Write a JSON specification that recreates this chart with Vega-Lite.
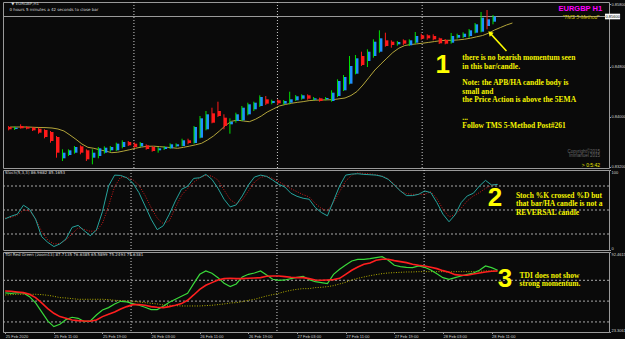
{
"$schema": "https://vega.github.io/schema/vega-lite/v6.json",
"background": "#0a0a0a",
"padding": {"left": 1, "top": 1, "right": 0, "bottom": 0},
"spacing": 2,
"bounds": "flush",
"config": {
  "view": {"stroke": "#9a9a9a", "strokeWidth": 1},
  "axis": {"labelColor": "#d4d4d4", "labelFont": "Liberation Sans", "labelFontSize": 4, "tickColor": "#9a9a9a", "tickSize": 1.5, "domain": false, "grid": false, "labelPadding": 0.5, "labelOverlap": false}
},
"datasets": {
  "days": [{"i": 20.7}, {"i": 44.7}, {"i": 68.9}],
  "candles": [
    {"i":0,"o":0.83832,"h":0.83848,"l":0.83779,"c":0.83795,"d":"dn","w":"dn"},
    {"i":1,"o":0.83800,"h":0.83837,"l":0.83784,"c":0.83821,"d":"up","w":"up"},
    {"i":2,"o":0.83848,"h":0.83875,"l":0.83805,"c":0.83811,"d":"dn","w":"dn"},
    {"i":3,"o":0.83832,"h":0.83843,"l":0.83795,"c":0.83805,"d":"dn","w":"dn"},
    {"i":4,"o":0.83821,"h":0.83832,"l":0.83768,"c":0.83779,"d":"dn","w":"dn"},
    {"i":5,"o":0.83805,"h":0.83821,"l":0.83725,"c":0.83741,"d":"dn","w":"dn"},
    {"i":6,"o":0.83784,"h":0.83795,"l":0.83651,"c":0.83672,"d":"dn","w":"dn"},
    {"i":7,"o":0.83752,"h":0.83768,"l":0.83581,"c":0.83608,"d":"dn","w":"dn"},
    {"i":8,"o":0.83672,"h":0.83688,"l":0.83341,"c":0.83421,"d":"dn","w":"dn"},
    {"i":9,"o":0.83331,"h":0.83475,"l":0.83288,"c":0.83421,"d":"up","w":"up"},
    {"i":10,"o":0.83384,"h":0.83475,"l":0.83368,"c":0.83459,"d":"up","w":"up"},
    {"i":11,"o":0.83421,"h":0.83528,"l":0.83405,"c":0.83512,"d":"up","w":"up"},
    {"i":12,"o":0.83523,"h":0.83539,"l":0.83395,"c":0.83421,"d":"dn","w":"dn"},
    {"i":13,"o":0.83459,"h":0.83475,"l":0.83288,"c":0.83315,"d":"dn","w":"dn"},
    {"i":14,"o":0.83341,"h":0.83475,"l":0.83235,"c":0.83421,"d":"up","w":"up"},
    {"i":15,"o":0.83368,"h":0.83512,"l":0.83331,"c":0.83491,"d":"up","w":"up"},
    {"i":16,"o":0.83421,"h":0.83523,"l":0.83405,"c":0.83501,"d":"up","w":"up"},
    {"i":17,"o":0.83459,"h":0.83528,"l":0.83437,"c":0.83512,"d":"up","w":"up"},
    {"i":18,"o":0.83459,"h":0.83581,"l":0.83448,"c":0.83565,"d":"up","w":"up"},
    {"i":19,"o":0.83512,"h":0.83619,"l":0.83491,"c":0.83592,"d":"up","w":"up"},
    {"i":20,"o":0.83592,"h":0.83608,"l":0.83528,"c":0.83539,"d":"dn","w":"dn"},
    {"i":21,"o":0.83565,"h":0.83587,"l":0.83491,"c":0.83512,"d":"dn","w":"dn"},
    {"i":22,"o":0.83523,"h":0.83592,"l":0.83512,"c":0.83576,"d":"up","w":"up"},
    {"i":23,"o":0.83539,"h":0.83555,"l":0.83469,"c":0.83480,"d":"dn","w":"dn"},
    {"i":24,"o":0.83512,"h":0.83528,"l":0.83437,"c":0.83448,"d":"dn","w":"dn"},
    {"i":25,"o":0.83459,"h":0.83512,"l":0.83421,"c":0.83491,"d":"up","w":"up"},
    {"i":26,"o":0.83480,"h":0.83528,"l":0.83464,"c":0.83512,"d":"up","w":"up"},
    {"i":27,"o":0.83491,"h":0.83571,"l":0.83480,"c":0.83555,"d":"up","w":"up"},
    {"i":28,"o":0.83523,"h":0.83571,"l":0.83512,"c":0.83555,"d":"up","w":"up"},
    {"i":29,"o":0.83528,"h":0.83645,"l":0.83523,"c":0.83619,"d":"up","w":"up"},
    {"i":30,"o":0.83619,"h":0.83645,"l":0.83555,"c":0.83576,"d":"dn","w":"dn"},
    {"i":31,"o":0.83576,"h":0.83848,"l":0.83565,"c":0.83832,"d":"up","w":"up"},
    {"i":32,"o":0.83661,"h":0.84008,"l":0.83651,"c":0.83971,"d":"up","w":"up"},
    {"i":33,"o":0.83795,"h":0.84088,"l":0.83779,"c":0.84035,"d":"up","w":"up"},
    {"i":34,"o":0.84051,"h":0.84141,"l":0.83891,"c":0.83901,"d":"dn","w":"dn"},
    {"i":35,"o":0.84088,"h":0.84237,"l":0.83992,"c":0.84008,"d":"dn","w":"dn"},
    {"i":36,"o":0.83981,"h":0.84035,"l":0.83795,"c":0.83848,"d":"dn","w":"dn"},
    {"i":37,"o":0.83875,"h":0.83971,"l":0.83725,"c":0.83917,"d":"up","w":"up"},
    {"i":38,"o":0.83928,"h":0.84061,"l":0.83901,"c":0.84035,"d":"up","w":"up"},
    {"i":39,"o":0.83939,"h":0.84168,"l":0.83928,"c":0.84141,"d":"up","w":"up"},
    {"i":40,"o":0.84035,"h":0.84221,"l":0.84019,"c":0.84195,"d":"up","w":"up"},
    {"i":41,"o":0.84115,"h":0.84237,"l":0.84088,"c":0.84221,"d":"up","w":"up"},
    {"i":42,"o":0.84168,"h":0.84339,"l":0.84152,"c":0.84312,"d":"up","w":"up"},
    {"i":43,"o":0.84275,"h":0.84328,"l":0.84184,"c":0.84205,"d":"dn","w":"dn"},
    {"i":44,"o":0.84216,"h":0.84269,"l":0.84195,"c":0.84248,"d":"up","w":"up"},
    {"i":45,"o":0.84259,"h":0.84275,"l":0.84184,"c":0.84211,"d":"dn","w":"dn"},
    {"i":46,"o":0.84205,"h":0.84264,"l":0.84189,"c":0.84248,"d":"up","w":"up"},
    {"i":47,"o":0.84221,"h":0.84397,"l":0.84195,"c":0.84275,"d":"up","w":"up"},
    {"i":48,"o":0.84259,"h":0.84344,"l":0.84248,"c":0.84323,"d":"up","w":"up"},
    {"i":49,"o":0.84285,"h":0.84355,"l":0.84269,"c":0.84339,"d":"up","w":"up"},
    {"i":50,"o":0.84339,"h":0.84355,"l":0.84269,"c":0.84285,"d":"dn","w":"dn"},
    {"i":51,"o":0.84269,"h":0.84312,"l":0.84259,"c":0.84291,"d":"up","w":"up"},
    {"i":52,"o":0.84291,"h":0.84301,"l":0.84237,"c":0.84248,"d":"dn","w":"dn"},
    {"i":53,"o":0.84275,"h":0.84312,"l":0.84259,"c":0.84296,"d":"up","w":"up"},
    {"i":54,"o":0.84248,"h":0.84419,"l":0.84237,"c":0.84381,"d":"up","w":"up"},
    {"i":55,"o":0.84328,"h":0.84595,"l":0.84312,"c":0.84568,"d":"up","w":"up"},
    {"i":56,"o":0.84419,"h":0.84664,"l":0.84408,"c":0.84632,"d":"up","w":"up"},
    {"i":57,"o":0.84525,"h":0.84968,"l":0.84515,"c":0.84808,"d":"up","w":"up"},
    {"i":58,"o":0.84685,"h":0.84984,"l":0.84675,"c":0.84931,"d":"up","w":"up"},
    {"i":59,"o":0.84968,"h":0.85037,"l":0.84808,"c":0.84824,"d":"dn","w":"dn"},
    {"i":60,"o":0.84888,"h":0.85075,"l":0.84792,"c":0.85037,"d":"up","w":"up"},
    {"i":61,"o":0.84968,"h":0.85235,"l":0.84941,"c":0.85197,"d":"up","w":"up"},
    {"i":62,"o":0.85037,"h":0.85379,"l":0.85021,"c":0.85251,"d":"up","w":"up"},
    {"i":63,"o":0.85219,"h":0.85341,"l":0.85117,"c":0.85128,"d":"dn","w":"dn"},
    {"i":64,"o":0.85197,"h":0.85219,"l":0.85101,"c":0.85144,"d":"dn","w":"dn"},
    {"i":65,"o":0.85155,"h":0.85208,"l":0.85133,"c":0.85192,"d":"up","w":"up"},
    {"i":66,"o":0.85219,"h":0.85235,"l":0.85144,"c":0.85165,"d":"dn","w":"dn"},
    {"i":67,"o":0.85139,"h":0.85235,"l":0.85128,"c":0.85219,"d":"up","w":"up"},
    {"i":68,"o":0.85181,"h":0.85352,"l":0.85165,"c":0.85288,"d":"up","w":"up"},
    {"i":69,"o":0.85299,"h":0.85325,"l":0.85229,"c":0.85245,"d":"dn","w":"dn"},
    {"i":70,"o":0.85299,"h":0.85315,"l":0.85229,"c":0.85251,"d":"dn","w":"dn"},
    {"i":71,"o":0.85288,"h":0.85315,"l":0.85219,"c":0.85235,"d":"dn","w":"dn"},
    {"i":72,"o":0.85251,"h":0.85261,"l":0.85160,"c":0.85171,"d":"dn","w":"dn"},
    {"i":73,"o":0.85224,"h":0.85240,"l":0.85155,"c":0.85165,"d":"dn","w":"dn"},
    {"i":74,"o":0.85181,"h":0.85336,"l":0.85165,"c":0.85288,"d":"up","w":"up"},
    {"i":75,"o":0.85261,"h":0.85325,"l":0.85245,"c":0.85304,"d":"up","w":"up"},
    {"i":76,"o":0.85272,"h":0.85347,"l":0.85256,"c":0.85325,"d":"up","w":"up"},
    {"i":77,"o":0.85288,"h":0.85400,"l":0.85261,"c":0.85379,"d":"up","w":"up"},
    {"i":78,"o":0.85341,"h":0.85496,"l":0.85331,"c":0.85475,"d":"up","w":"up"},
    {"i":79,"o":0.85357,"h":0.85672,"l":0.85347,"c":0.85581,"d":"up","w":"up"},
    {"i":80,"o":0.85448,"h":0.85704,"l":0.85395,"c":0.85555,"d":"up","w":"dn"},
    {"i":81,"o":0.85517,"h":0.85624,"l":0.85475,"c":0.85600,"d":"up","w":"up"}
  ],
  "ema": [
    {"i":0,"v":0.83832},{"i":1,"v":0.83832},{"i":2,"v":0.83832},{"i":3,"v":0.83832},{"i":4,"v":0.83827},
    {"i":5,"v":0.83824},{"i":6,"v":0.83822},{"i":7,"v":0.83816},{"i":8,"v":0.83800},{"i":9,"v":0.83768},
    {"i":10,"v":0.83704},{"i":11,"v":0.83635},{"i":12,"v":0.83560},{"i":13,"v":0.83507},{"i":14,"v":0.83491},
    {"i":15,"v":0.83467},{"i":16,"v":0.83446},{"i":17,"v":0.83421},{"i":18,"v":0.83429},{"i":19,"v":0.83448},
    {"i":20,"v":0.83469},{"i":21,"v":0.83493},{"i":22,"v":0.83512},{"i":23,"v":0.83523},{"i":24,"v":0.83525},
    {"i":25,"v":0.83518},{"i":26,"v":0.83510},{"i":27,"v":0.83501},{"i":28,"v":0.83491},{"i":29,"v":0.83507},
    {"i":30,"v":0.83526},{"i":31,"v":0.83547},{"i":32,"v":0.83571},{"i":33,"v":0.83624},{"i":34,"v":0.83688},
    {"i":35,"v":0.83768},{"i":36,"v":0.83856},{"i":37,"v":0.83923},{"i":38,"v":0.83942},{"i":39,"v":0.83928},
    {"i":40,"v":0.83917},{"i":41,"v":0.83955},{"i":42,"v":0.84008},{"i":43,"v":0.84072},{"i":44,"v":0.84120},
    {"i":45,"v":0.84168},{"i":46,"v":0.84192},{"i":47,"v":0.84211},{"i":48,"v":0.84226},{"i":49,"v":0.84238},
    {"i":50,"v":0.84254},{"i":51,"v":0.84261},{"i":52,"v":0.84264},{"i":53,"v":0.84266},{"i":54,"v":0.84269},
    {"i":55,"v":0.84283},{"i":56,"v":0.84296},{"i":57,"v":0.84336},{"i":58,"v":0.84400},{"i":59,"v":0.84504},
    {"i":60,"v":0.84624},{"i":61,"v":0.84744},{"i":62,"v":0.84840},{"i":63,"v":0.84933},{"i":64,"v":0.85024},
    {"i":65,"v":0.85093},{"i":66,"v":0.85136},{"i":67,"v":0.85152},{"i":68,"v":0.85162},{"i":69,"v":0.85173},
    {"i":70,"v":0.85186},{"i":71,"v":0.85200},{"i":72,"v":0.85214},{"i":73,"v":0.85219},{"i":74,"v":0.85219},
    {"i":75,"v":0.85226},{"i":76,"v":0.85237},{"i":77,"v":0.85253},{"i":78,"v":0.85275},{"i":79,"v":0.85296},
    {"i":80,"v":0.85333},{"i":81,"v":0.85384},{"i":82,"v":0.85424},{"i":83,"v":0.85464},{"i":84,"v":0.85496}
  ],
  "ind": [
    {"i":0,"k":39.0,"dsig":39.9,"rsi":57.05,"sig":58.78,"base":55.32},
    {"i":1,"k":42.3,"dsig":40.7,"rsi":56.76,"sig":58.49,"base":55.61},
    {"i":2,"k":44.8,"dsig":43.6,"rsi":57.34,"sig":57.92,"base":55.90},
    {"i":3,"k":56.0,"dsig":49.8,"rsi":57.05,"sig":57.34,"base":55.90},
    {"i":4,"k":51.0,"dsig":49.0,"rsi":53.88,"sig":55.90,"base":55.90},
    {"i":5,"k":38.6,"dsig":38.6,"rsi":48.41,"sig":53.02,"base":55.90},
    {"i":6,"k":16.7,"dsig":23.3,"rsi":40.64,"sig":48.41,"base":55.61},
    {"i":7,"k":9.6,"dsig":12.5,"rsi":32.86,"sig":43.52,"base":55.04},
    {"i":8,"k":4.3,"dsig":7.6,"rsi":27.96,"sig":39.48,"base":54.17},
    {"i":9,"k":7.6,"dsig":8.0,"rsi":29.98,"sig":36.60,"base":53.02},
    {"i":10,"k":13.8,"dsig":12.5,"rsi":34.01,"sig":35.16,"base":52.73},
    {"i":11,"k":28.3,"dsig":20.0,"rsi":36.03,"sig":33.72,"base":52.16},
    {"i":12,"k":30.8,"dsig":27.9,"rsi":35.16,"sig":33.15,"base":51.58},
    {"i":13,"k":24.1,"dsig":25.8,"rsi":32.28,"sig":32.86,"base":51.58},
    {"i":14,"k":17.9,"dsig":23.3,"rsi":32.86,"sig":32.57,"base":51.58},
    {"i":15,"k":24.9,"dsig":24.1,"rsi":38.04,"sig":33.72,"base":51.58},
    {"i":16,"k":48.1,"dsig":33.2,"rsi":42.36,"sig":36.60,"base":51.58},
    {"i":17,"k":80.0,"dsig":55.2,"rsi":44.38,"sig":38.62,"base":51.29},
    {"i":18,"k":93.6,"dsig":79.2,"rsi":47.55,"sig":40.64,"base":50.72},
    {"i":19,"k":93.2,"dsig":91.2,"rsi":49.85,"sig":43.23,"base":50.43},
    {"i":20,"k":90.3,"dsig":90.8,"rsi":49.28,"sig":45.24,"base":50.14},
    {"i":21,"k":83.7,"dsig":87.9,"rsi":47.84,"sig":46.97,"base":49.85},
    {"i":22,"k":71.7,"dsig":80.8,"rsi":46.40,"sig":46.97,"base":49.28},
    {"i":23,"k":55.2,"dsig":68.4,"rsi":44.67,"sig":46.40,"base":48.70},
    {"i":24,"k":38.6,"dsig":53.1,"rsi":42.65,"sig":45.24,"base":48.12},
    {"i":25,"k":25.4,"dsig":39.9,"rsi":42.65,"sig":44.67,"base":47.55},
    {"i":26,"k":30.3,"dsig":32.8,"rsi":45.53,"sig":44.38,"base":46.68},
    {"i":27,"k":44.8,"dsig":36.5,"rsi":48.99,"sig":45.24,"base":46.40},
    {"i":28,"k":61.4,"dsig":53.1,"rsi":51.58,"sig":46.40,"base":46.11},
    {"i":29,"k":75.9,"dsig":68.4,"rsi":54.17,"sig":47.84,"base":45.82},
    {"i":30,"k":79.6,"dsig":76.7,"rsi":56.76,"sig":50.72,"base":45.82},
    {"i":31,"k":89.5,"dsig":84.5,"rsi":65.12,"sig":55.32,"base":45.82},
    {"i":32,"k":90.3,"dsig":90.3,"rsi":73.18,"sig":60.22,"base":45.82},
    {"i":33,"k":94.5,"dsig":93.2,"rsi":76.06,"sig":63.68,"base":46.11},
    {"i":34,"k":88.3,"dsig":92.4,"rsi":74.04,"sig":65.98,"base":46.40},
    {"i":35,"k":77.1,"dsig":87.4,"rsi":70.30,"sig":68.28,"base":46.97},
    {"i":36,"k":63.4,"dsig":75.0,"rsi":65.40,"sig":69.44,"base":47.55},
    {"i":37,"k":53.9,"dsig":63.0,"rsi":62.52,"sig":69.72,"base":48.41},
    {"i":38,"k":56.4,"dsig":57.7,"rsi":64.83,"sig":69.44,"base":48.70},
    {"i":39,"k":67.6,"dsig":62.6,"rsi":70.88,"sig":69.44,"base":49.56},
    {"i":40,"k":81.2,"dsig":73.8,"rsi":73.18,"sig":69.72,"base":50.72},
    {"i":41,"k":91.2,"dsig":84.9,"rsi":74.33,"sig":70.01,"base":51.58},
    {"i":42,"k":93.6,"dsig":90.8,"rsi":76.06,"sig":70.30,"base":53.02},
    {"i":43,"k":92.0,"dsig":92.4,"rsi":72.60,"sig":71.45,"base":54.46},
    {"i":44,"k":87.4,"dsig":89.5,"rsi":68.86,"sig":71.74,"base":55.61},
    {"i":45,"k":82.0,"dsig":85.4,"rsi":68.00,"sig":71.74,"base":56.76},
    {"i":46,"k":78.7,"dsig":80.8,"rsi":68.28,"sig":71.16,"base":58.20},
    {"i":47,"k":70.9,"dsig":76.7,"rsi":69.44,"sig":70.59,"base":59.36},
    {"i":48,"k":67.1,"dsig":72.9,"rsi":70.59,"sig":70.30,"base":60.22},
    {"i":49,"k":64.7,"dsig":69.2,"rsi":71.45,"sig":70.30,"base":60.80},
    {"i":50,"k":63.4,"dsig":66.3,"rsi":68.57,"sig":69.44,"base":60.80},
    {"i":51,"k":53.1,"dsig":58.1,"rsi":66.84,"sig":68.28,"base":61.66},
    {"i":52,"k":46.9,"dsig":51.9,"rsi":65.98,"sig":68.00,"base":61.95},
    {"i":53,"k":42.7,"dsig":49.0,"rsi":65.12,"sig":68.28,"base":62.52},
    {"i":54,"k":61.4,"dsig":59.3,"rsi":73.18,"sig":68.57,"base":63.39},
    {"i":55,"k":80.0,"dsig":72.9,"rsi":77.50,"sig":69.72,"base":64.83},
    {"i":56,"k":93.6,"dsig":86.2,"rsi":81.24,"sig":73.18,"base":66.27},
    {"i":57,"k":94.9,"dsig":93.6,"rsi":84.70,"sig":76.64,"base":68.28},
    {"i":58,"k":95.3,"dsig":96.5,"rsi":86.14,"sig":79.52,"base":69.72},
    {"i":59,"k":94.5,"dsig":95.7,"rsi":86.14,"sig":81.82,"base":70.88},
    {"i":60,"k":94.1,"dsig":95.3,"rsi":86.72,"sig":82.97,"base":72.03},
    {"i":61,"k":93.6,"dsig":94.1,"rsi":87.58,"sig":85.28,"base":72.89},
    {"i":62,"k":92.0,"dsig":92.4,"rsi":88.44,"sig":86.14,"base":73.76},
    {"i":63,"k":88.3,"dsig":89.1,"rsi":85.28,"sig":86.14,"base":74.33},
    {"i":64,"k":81.2,"dsig":82.0,"rsi":80.96,"sig":85.00,"base":74.62},
    {"i":65,"k":73.8,"dsig":73.8,"rsi":79.80,"sig":84.12,"base":74.91},
    {"i":66,"k":68.0,"dsig":70.5,"rsi":79.23,"sig":83.26,"base":75.20},
    {"i":67,"k":68.0,"dsig":69.6,"rsi":78.94,"sig":81.82,"base":75.20},
    {"i":68,"k":69.6,"dsig":69.6,"rsi":80.38,"sig":80.96,"base":75.48},
    {"i":69,"k":73.8,"dsig":69.6,"rsi":79.23,"sig":80.38,"base":75.48},
    {"i":70,"k":71.7,"dsig":72.9,"rsi":76.92,"sig":79.23,"base":75.48},
    {"i":71,"k":59.3,"dsig":64.3,"rsi":73.76,"sig":78.08,"base":75.48},
    {"i":72,"k":44.8,"dsig":51.0,"rsi":70.30,"sig":76.35,"base":75.48},
    {"i":73,"k":35.3,"dsig":41.5,"rsi":68.86,"sig":74.91,"base":75.20},
    {"i":74,"k":44.0,"dsig":44.0,"rsi":70.30,"sig":72.89,"base":75.48},
    {"i":75,"k":59.3,"dsig":52.3,"rsi":71.74,"sig":72.32,"base":75.48},
    {"i":76,"k":67.6,"dsig":61.4,"rsi":73.18,"sig":72.32,"base":75.48},
    {"i":77,"k":70.9,"dsig":67.6,"rsi":74.33,"sig":73.47,"base":75.48},
    {"i":78,"k":80.0,"dsig":71.7,"rsi":76.64,"sig":74.33,"base":75.78},
    {"i":79,"k":87.0,"dsig":77.1,"rsi":80.38,"sig":75.20,"base":76.06},
    {"i":80,"k":81.2,"dsig":80.8,"rsi":78.94,"sig":75.78,"base":76.06},
    {"i":81,"k":82.0,"dsig":82.4,"rsi":76.64,"sig":76.06,"base":76.06}
  ]
},
"vconcat": [
 {
  "width": 606, "height": 166,
  "resolve": {"scale": {"color": "independent"}},
  "layer": [
   {"data": {"name": "days"}, "mark": {"type": "rule", "color": "#cfcfcf", "strokeDash": [1, 2]},
    "encoding": {"x": {"field": "i", "type": "quantitative", "scale": {"domain": [-0.36, 99.31], "nice": false, "zero": false}, "axis": null}}},
   {"data": {"values": [{"p": 0.856}]}, "mark": {"type": "rule", "color": "#9a9a9a"},
    "encoding": {"y": {"field": "p", "type": "quantitative", "scale": {"domain": [0.83176, 0.85832], "nice": false, "zero": false}}}},
   {"data": {"name": "ema"}, "mark": {"type": "line", "color": "#b3a53a", "strokeWidth": 1},
    "encoding": {"x": {"field": "i", "type": "quantitative", "scale": {"domain": [-0.36, 99.31], "nice": false, "zero": false}, "axis": null},
                 "y": {"field": "v", "type": "quantitative", "scale": {"domain": [0.83176, 0.85832], "nice": false, "zero": false}}}},
   {"data": {"name": "candles"}, "mark": {"type": "bar", "width": 3},
    "encoding": {"x": {"field": "i", "type": "quantitative", "scale": {"domain": [-0.36, 99.31], "nice": false, "zero": false}, "axis": null},
                 "y": {"field": "o", "type": "quantitative", "scale": {"domain": [0.83176, 0.85832], "nice": false, "zero": false},
                       "axis": {"orient": "right", "title": null, "values": [0.832, 0.834, 0.836, 0.838, 0.840, 0.842, 0.844, 0.846, 0.848, 0.850, 0.852, 0.854, 0.858], "format": ".5f"}},
                 "y2": {"field": "c"},
                 "color": {"field": "d", "type": "nominal", "scale": {"domain": ["up", "dn"], "range": ["#1e90ff", "#ff1a1a"]}, "legend": null}}},
   {"data": {"name": "candles"}, "mark": {"type": "rule", "strokeWidth": 1, "xOffset": -1.5},
    "encoding": {"x": {"field": "i", "type": "quantitative", "scale": {"domain": [-0.36, 99.31], "nice": false, "zero": false}, "axis": null},
                 "y": {"field": "l", "type": "quantitative", "scale": {"domain": [0.83176, 0.85832], "nice": false, "zero": false}},
                 "y2": {"field": "h"},
                 "color": {"field": "w", "type": "nominal", "scale": {"domain": ["up", "dn"], "range": ["#00e000", "#ff1a1a"]}, "legend": null}}},
   {"data": {"values": [{"i": 83.0, "p": 0.85048, "i2": 80.3, "p2": 0.85330}]}, "mark": {"type": "rule", "color": "#ffff00", "strokeWidth": 1.5},
    "encoding": {"x": {"field": "i", "type": "quantitative", "scale": {"domain": [-0.36, 99.31], "nice": false, "zero": false}, "axis": null}, "x2": {"field": "i2"},
                 "y": {"field": "p", "type": "quantitative", "scale": {"domain": [0.83176, 0.85832], "nice": false, "zero": false}}, "y2": {"field": "p2"}}},
   {"data": {"values": [{"i": 80.25, "p": 0.85335}]}, "mark": {"type": "point", "shape": "triangle-up", "angle": 316, "size": 30, "filled": true, "color": "#ffff00", "opacity": 1},
    "encoding": {"x": {"field": "i", "type": "quantitative", "scale": {"domain": [-0.36, 99.31], "nice": false, "zero": false}, "axis": null},
                 "y": {"field": "p", "type": "quantitative", "scale": {"domain": [0.83176, 0.85832], "nice": false, "zero": false}}}},
   {"data": {"values": [
      {"i": 75.62, "p": 0.84931, "t": "there is no bearish momentum seen"},
      {"i": 75.62, "p": 0.84797, "t": "in this bar/candle."},
      {"i": 75.62, "p": 0.84536, "t": "Note: the APB/HA candle body is"},
      {"i": 75.62, "p": 0.84397, "t": "small and"},
      {"i": 75.62, "p": 0.84259, "t": "the Price Action is above the 5EMA"},
      {"i": 75.62, "p": 0.83981, "t": "..."},
      {"i": 75.62, "p": 0.83848, "t": "Follow TMS 5-Method Post#261"}]},
    "mark": {"type": "text", "align": "left", "baseline": "middle", "font": "Liberation Serif", "fontWeight": "bold", "fontSize": 7.5, "color": "#f5f500"},
    "encoding": {"x": {"field": "i", "type": "quantitative", "scale": {"domain": [-0.36, 99.31], "nice": false, "zero": false}, "axis": null},
                 "y": {"field": "p", "type": "quantitative", "scale": {"domain": [0.83176, 0.85832], "nice": false, "zero": false}},
                 "text": {"field": "t"}}},
   {"data": {"values": [{"i": 72.34, "p": 0.84824, "t": "1"}]},
    "mark": {"type": "text", "align": "center", "baseline": "middle", "font": "Liberation Sans", "fontWeight": "bold", "fontSize": 26, "color": "#ffff00"},
    "encoding": {"x": {"field": "i", "type": "quantitative", "scale": {"domain": [-0.36, 99.31], "nice": false, "zero": false}, "axis": null},
                 "y": {"field": "p", "type": "quantitative", "scale": {"domain": [0.83176, 0.85832], "nice": false, "zero": false}},
                 "text": {"field": "t"}}},
   {"data": {"values": [{"i": 99.0, "p": 0.85715, "t": "EURGBP H1"}]},
    "mark": {"type": "text", "align": "right", "baseline": "middle", "font": "Liberation Sans", "fontWeight": "bold", "fontSize": 7.5, "color": "#ff00ff"},
    "encoding": {"x": {"field": "i", "type": "quantitative", "scale": {"domain": [-0.36, 99.31], "nice": false, "zero": false}, "axis": null},
                 "y": {"field": "p", "type": "quantitative", "scale": {"domain": [0.83176, 0.85832], "nice": false, "zero": false}},
                 "text": {"field": "t"}}},
   {"data": {"values": [{"i": 98.5, "p": 0.85597, "t": "\"TMS 5-Method\""}]},
    "mark": {"type": "text", "align": "right", "baseline": "middle", "font": "Liberation Sans", "fontStyle": "italic", "fontSize": 5, "color": "#d6c600"},
    "encoding": {"x": {"field": "i", "type": "quantitative", "scale": {"domain": [-0.36, 99.31], "nice": false, "zero": false}, "axis": null},
                 "y": {"field": "p", "type": "quantitative", "scale": {"domain": [0.83176, 0.85832], "nice": false, "zero": false}},
                 "text": {"field": "t"}}},
   {"data": {"values": [{"i": 0.2, "p": 0.85795, "t": "▼ EURGBP,H1"}, {"i": -0.1, "p": 0.85704, "t": "0 hours 5 minutes a 42 seconds to close bar"}]},
    "mark": {"type": "text", "align": "left", "baseline": "middle", "font": "DejaVu Sans", "fontSize": 4, "color": "#d8d8d8"},
    "encoding": {"x": {"field": "i", "type": "quantitative", "scale": {"domain": [-0.36, 99.31], "nice": false, "zero": false}, "axis": null},
                 "y": {"field": "p", "type": "quantitative", "scale": {"domain": [0.83176, 0.85832], "nice": false, "zero": false}},
                 "text": {"field": "t"}}},
   {"data": {"values": [{"i": 98.65, "p": 0.83427, "t": "Copyright©2015"}, {"i": 98.65, "p": 0.83368, "t": "Immanuel 2015"}]},
    "mark": {"type": "text", "align": "right", "baseline": "middle", "font": "Liberation Sans", "fontSize": 4.5, "color": "#6a6a6a"},
    "encoding": {"x": {"field": "i", "type": "quantitative", "scale": {"domain": [-0.36, 99.31], "nice": false, "zero": false}, "axis": null},
                 "y": {"field": "p", "type": "quantitative", "scale": {"domain": [0.83176, 0.85832], "nice": false, "zero": false}},
                 "text": {"field": "t"}}},
   {"data": {"values": [{"i": 98.65, "p": 0.83224, "t": "> 0:5:42"}]},
    "mark": {"type": "text", "align": "right", "baseline": "middle", "font": "Liberation Sans", "fontSize": 5, "color": "#e6e600"},
    "encoding": {"x": {"field": "i", "type": "quantitative", "scale": {"domain": [-0.36, 99.31], "nice": false, "zero": false}, "axis": null},
                 "y": {"field": "p", "type": "quantitative", "scale": {"domain": [0.83176, 0.85832], "nice": false, "zero": false}},
                 "text": {"field": "t"}}},
   {"data": {"values": [{"i": 99.47, "i2": 102.0, "p": 0.85645, "p2": 0.85555}]}, "mark": {"type": "rect", "color": "#ffffff"},
    "encoding": {"x": {"field": "i", "type": "quantitative", "scale": {"domain": [-0.36, 99.31], "nice": false, "zero": false}, "axis": null}, "x2": {"field": "i2"},
                 "y": {"field": "p", "type": "quantitative", "scale": {"domain": [0.83176, 0.85832], "nice": false, "zero": false}}, "y2": {"field": "p2"}}},
   {"data": {"values": [{"i": 99.55, "p": 0.856, "t": "0.85600"}]},
    "mark": {"type": "text", "align": "left", "baseline": "middle", "font": "Liberation Sans", "fontSize": 4, "color": "#000000"},
    "encoding": {"x": {"field": "i", "type": "quantitative", "scale": {"domain": [-0.36, 99.31], "nice": false, "zero": false}, "axis": null},
                 "y": {"field": "p", "type": "quantitative", "scale": {"domain": [0.83176, 0.85832], "nice": false, "zero": false}},
                 "text": {"field": "t"}}}
  ]
 },
 {
  "width": 606, "height": 80,
  "layer": [
   {"data": {"name": "days"}, "mark": {"type": "rule", "color": "#cfcfcf", "strokeDash": [1, 2]},
    "encoding": {"x": {"field": "i", "type": "quantitative", "scale": {"domain": [-0.36, 99.31], "nice": false, "zero": false}, "axis": null}}},
   {"data": {"values": [{"v": 20}, {"v": 50}, {"v": 80}]}, "mark": {"type": "rule", "color": "#a8a8a8", "strokeDash": [2, 2]},
    "encoding": {"y": {"field": "v", "type": "quantitative", "scale": {"domain": [0, 100], "nice": false, "zero": false}}}},
   {"data": {"name": "ind"}, "mark": {"type": "line", "color": "#cc1a1a", "strokeWidth": 1, "strokeDash": [1, 1.5]},
    "encoding": {"x": {"field": "i", "type": "quantitative", "scale": {"domain": [-0.36, 99.31], "nice": false, "zero": false}, "axis": null},
                 "y": {"field": "dsig", "type": "quantitative", "scale": {"domain": [0, 100], "nice": false, "zero": false}}}},
   {"data": {"name": "ind"}, "mark": {"type": "line", "color": "#26a39c", "strokeWidth": 1},
    "encoding": {"x": {"field": "i", "type": "quantitative", "scale": {"domain": [-0.36, 99.31], "nice": false, "zero": false}, "axis": null},
                 "y": {"field": "k", "type": "quantitative", "scale": {"domain": [0, 100], "nice": false, "zero": false},
                       "axis": {"orient": "right", "title": null, "values": [0, 20, 50, 80, 100], "labelFlush": true}}}},
   {"data": {"values": [{"i": -0.05, "v": 95.9, "t": "Stoch(5,3,3) 86.9682 85.1653"}]},
    "mark": {"type": "text", "align": "left", "baseline": "middle", "font": "DejaVu Sans", "fontSize": 4, "color": "#d8d8d8"},
    "encoding": {"x": {"field": "i", "type": "quantitative", "scale": {"domain": [-0.36, 99.31], "nice": false, "zero": false}, "axis": null},
                 "y": {"field": "v", "type": "quantitative", "scale": {"domain": [0, 100], "nice": false, "zero": false}},
                 "text": {"field": "t"}}},
   {"data": {"values": [{"i": 80.56, "v": 64.4, "t": "2"}]},
    "mark": {"type": "text", "align": "center", "baseline": "middle", "font": "Liberation Sans", "fontWeight": "bold", "fontSize": 26, "color": "#ffff00"},
    "encoding": {"x": {"field": "i", "type": "quantitative", "scale": {"domain": [-0.36, 99.31], "nice": false, "zero": false}, "axis": null},
                 "y": {"field": "v", "type": "quantitative", "scale": {"domain": [0, 100], "nice": false, "zero": false}},
                 "text": {"field": "t"}}},
   {"data": {"values": [{"i": 84.0, "v": 67.5, "t": "Stoch %K crossed %D but"}, {"i": 84.0, "v": 57.1, "t": "that bar/HA candle is not a"}, {"i": 84.0, "v": 46.6, "t": "REVERSAL candle"}]},
    "mark": {"type": "text", "align": "left", "baseline": "middle", "font": "Liberation Serif", "fontWeight": "bold", "fontSize": 7.5, "color": "#f5f500"},
    "encoding": {"x": {"field": "i", "type": "quantitative", "scale": {"domain": [-0.36, 99.31], "nice": false, "zero": false}, "axis": null},
                 "y": {"field": "v", "type": "quantitative", "scale": {"domain": [0, 100], "nice": false, "zero": false}},
                 "text": {"field": "t"}}}
  ]
 },
 {
  "width": 606, "height": 80,
  "layer": [
   {"data": {"name": "days"}, "mark": {"type": "rule", "color": "#cfcfcf", "strokeDash": [1, 2]},
    "encoding": {"x": {"field": "i", "type": "quantitative", "scale": {"domain": [-0.36, 99.31], "nice": false, "zero": false}}}},
   {"data": {"values": [{"v": 32}, {"v": 50}, {"v": 68}]}, "mark": {"type": "rule", "color": "#a8a8a8", "strokeDash": [2, 2]},
    "encoding": {"y": {"field": "v", "type": "quantitative", "scale": {"domain": [23.3061, 92.4615], "nice": false, "zero": false}}}},
   {"data": {"name": "ind"}, "mark": {"type": "line", "color": "#b5b000", "strokeWidth": 1, "strokeDash": [1, 1.5]},
    "encoding": {"x": {"field": "i", "type": "quantitative", "scale": {"domain": [-0.36, 99.31], "nice": false, "zero": false}},
                 "y": {"field": "base", "type": "quantitative", "scale": {"domain": [23.3061, 92.4615], "nice": false, "zero": false}}}},
   {"data": {"name": "ind"}, "mark": {"type": "line", "color": "#3ad83a", "strokeWidth": 1.2},
    "encoding": {"x": {"field": "i", "type": "quantitative", "scale": {"domain": [-0.36, 99.31], "nice": false, "zero": false},
                       "axis": {"orient": "bottom", "title": null, "values": [0, 4, 8, 12, 16, 20, 24, 28, 32, 36, 40, 44, 48, 52, 56, 60, 64, 68, 72, 76, 80],
                                "labelExpr": "['25 Feb 2020','25 Feb 07:00','25 Feb 11:00','25 Feb 15:00','25 Feb 19:00','25 Feb 23:00','26 Feb 03:00','26 Feb 07:00','26 Feb 11:00','26 Feb 15:00','26 Feb 19:00','26 Feb 23:00','27 Feb 03:00','27 Feb 07:00','27 Feb 11:00','27 Feb 15:00','27 Feb 19:00','27 Feb 23:00','28 Feb 03:00','28 Feb 07:00','28 Feb 11:00'][round(datum.value/4)]",
                                "labelAlign": "left", "labelFlush": false, "labelOverlap": false, "labelBound": false, "labelFontSize": 4}},
                 "y": {"field": "rsi", "type": "quantitative", "scale": {"domain": [23.3061, 92.4615], "nice": false, "zero": false},
                       "axis": {"orient": "right", "title": null, "values": [23.3061, 32, 50, 68, 92.4615], "format": ".4~f", "labelFlush": true}}}},
   {"data": {"name": "ind"}, "mark": {"type": "line", "color": "#ff1f1f", "strokeWidth": 1.6},
    "encoding": {"x": {"field": "i", "type": "quantitative", "scale": {"domain": [-0.36, 99.31], "nice": false, "zero": false}},
                 "y": {"field": "sig", "type": "quantitative", "scale": {"domain": [23.3061, 92.4615], "nice": false, "zero": false}}}},
   {"data": {"values": [{"i": -0.05, "v": 89.87, "t": "TDI Red Green (zoom13) 87.7135 76.6385 65.5899 75.2493 75.6381"}]},
    "mark": {"type": "text", "align": "left", "baseline": "middle", "font": "DejaVu Sans", "fontSize": 4, "color": "#d8d8d8"},
    "encoding": {"x": {"field": "i", "type": "quantitative", "scale": {"domain": [-0.36, 99.31], "nice": false, "zero": false}},
                 "y": {"field": "v", "type": "quantitative", "scale": {"domain": [23.3061, 92.4615], "nice": false, "zero": false}},
                 "text": {"field": "t"}}},
   {"data": {"values": [{"i": 82.2, "v": 68.9, "t": "3"}]},
    "mark": {"type": "text", "align": "center", "baseline": "middle", "font": "Liberation Sans", "fontWeight": "bold", "fontSize": 26, "color": "#ffff00"},
    "encoding": {"x": {"field": "i", "type": "quantitative", "scale": {"domain": [-0.36, 99.31], "nice": false, "zero": false}},
                 "y": {"field": "v", "type": "quantitative", "scale": {"domain": [23.3061, 92.4615], "nice": false, "zero": false}},
                 "text": {"field": "t"}}},
   {"data": {"values": [{"i": 84.6, "v": 71.7, "t": "TDI does not show"}, {"i": 84.6, "v": 64.6, "t": "strong momentum."}]},
    "mark": {"type": "text", "align": "left", "baseline": "middle", "font": "Liberation Serif", "fontWeight": "bold", "fontSize": 7.5, "color": "#f5f500"},
    "encoding": {"x": {"field": "i", "type": "quantitative", "scale": {"domain": [-0.36, 99.31], "nice": false, "zero": false}},
                 "y": {"field": "v", "type": "quantitative", "scale": {"domain": [23.3061, 92.4615], "nice": false, "zero": false}},
                 "text": {"field": "t"}}}
  ]
 }
]
}
